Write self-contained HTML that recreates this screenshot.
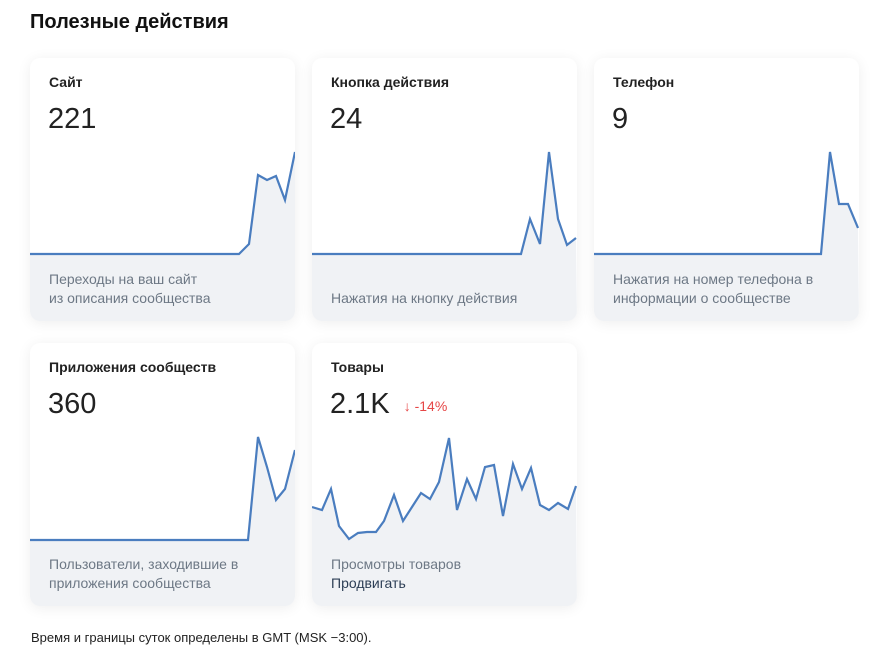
<!DOCTYPE html>
<html><head><meta charset="utf-8"><style>
body{margin:0;width:890px;height:664px;background:#fff;font-family:"Liberation Sans","Noto Sans CJK SC",sans-serif;position:relative;overflow:hidden;color:#222}
h1{position:absolute;left:30px;top:11px;margin:0;font-size:20px;font-weight:600;color:#111}
.card{position:absolute;width:265px;height:263px;border-radius:10px;overflow:hidden;background:#fff;box-shadow:0 2px 14px rgba(0,0,0,0.07)}
.card svg{position:absolute;left:0;top:0}
.t{position:absolute;left:19px;top:16px;font-size:14px;font-weight:600;color:#222}
.n{position:absolute;left:18px;top:45px;font-size:29px;color:#222}
.c{position:absolute;left:19px;top:212px;font-size:14px;line-height:19px;color:#6d7885}
.f{position:absolute;left:31px;top:630px;font-size:13px;color:#222}
</style></head><body>
<h1>Полезные действия</h1>

<div class="card" style="left:30px;top:58px">
<svg width="265" height="263"><polygon fill="#f0f2f5" points="0,196 209,196 219,186 228,117 237,122 246,118 255,142 265,94 265,263 0,263"/><polyline fill="none" stroke="#4a7dbf" stroke-width="2.2" points="0,196 209,196 219,186 228,117 237,122 246,118 255,142 265,94"/></svg>
<div class="t">Сайт</div><div class="n">221</div>
<div class="c">Переходы на ваш сайт<br>из описания сообщества</div></div>

<div class="card" style="left:312px;top:58px">
<svg width="265" height="263"><polygon fill="#f0f2f5" points="0,196 209,196 218,161 228,186 237,94 246,161 255,187 264,180 265,263 0,263"/><polyline fill="none" stroke="#4a7dbf" stroke-width="2.2" points="0,196 209,196 218,161 228,186 237,94 246,161 255,187 264,180"/></svg>
<div class="t">Кнопка действия</div><div class="n">24</div>
<div class="c" style="top:231px">Нажатия на кнопку действия</div></div>

<div class="card" style="left:594px;top:58px">
<svg width="265" height="263"><polygon fill="#f0f2f5" points="0,196 227,196 236,94 245,146 254,146 264,170 265,263 0,263"/><polyline fill="none" stroke="#4a7dbf" stroke-width="2.2" points="0,196 227,196 236,94 245,146 254,146 264,170"/></svg>
<div class="t">Телефон</div><div class="n">9</div>
<div class="c">Нажатия на номер телефона в<br>информации о сообществе</div></div>

<div class="card" style="left:30px;top:343px">
<svg width="265" height="263"><polygon fill="#f0f2f5" points="0,197 218,197 228,94 237,124 246,157 255,146 265,107 265,263 0,263"/><polyline fill="none" stroke="#4a7dbf" stroke-width="2.2" points="0,197 218,197 228,94 237,124 246,157 255,146 265,107"/></svg>
<div class="t">Приложения сообществ</div><div class="n">360</div>
<div class="c">Пользователи, заходившие в<br>приложения сообщества</div></div>

<div class="card" style="left:312px;top:343px">
<svg width="265" height="263"><polygon fill="#f0f2f5" points="0,164 10,167 19,146 27,183 37,196 46,190 55,189 64,189 72,178 82,152 91,178 100,164 109,150 118,156 127,139 137,95 145,167 155,136 164,156 173,124 182,122 191,173 201,121 210,146 219,125 228,162 237,167 246,160 256,166 264,143 265,263 0,263"/><polyline fill="none" stroke="#4a7dbf" stroke-width="2.2" points="0,164 10,167 19,146 27,183 37,196 46,190 55,189 64,189 72,178 82,152 91,178 100,164 109,150 118,156 127,139 137,95 145,167 155,136 164,156 173,124 182,122 191,173 201,121 210,146 219,125 228,162 237,167 246,160 256,166 264,143"/></svg>
<div class="t">Товары</div><div class="n">2.1K <span style="font-size:14px;color:#e64646;vertical-align:2px;margin-left:6px"><b>&#8595;</b> -14%</span></div>
<div class="c">Просмотры товаров<br><span style="color:#2c3e55">Продвигать</span></div></div>

<div class="f">Время и границы суток определены в GMT (MSK −3:00).</div>
</body></html>
